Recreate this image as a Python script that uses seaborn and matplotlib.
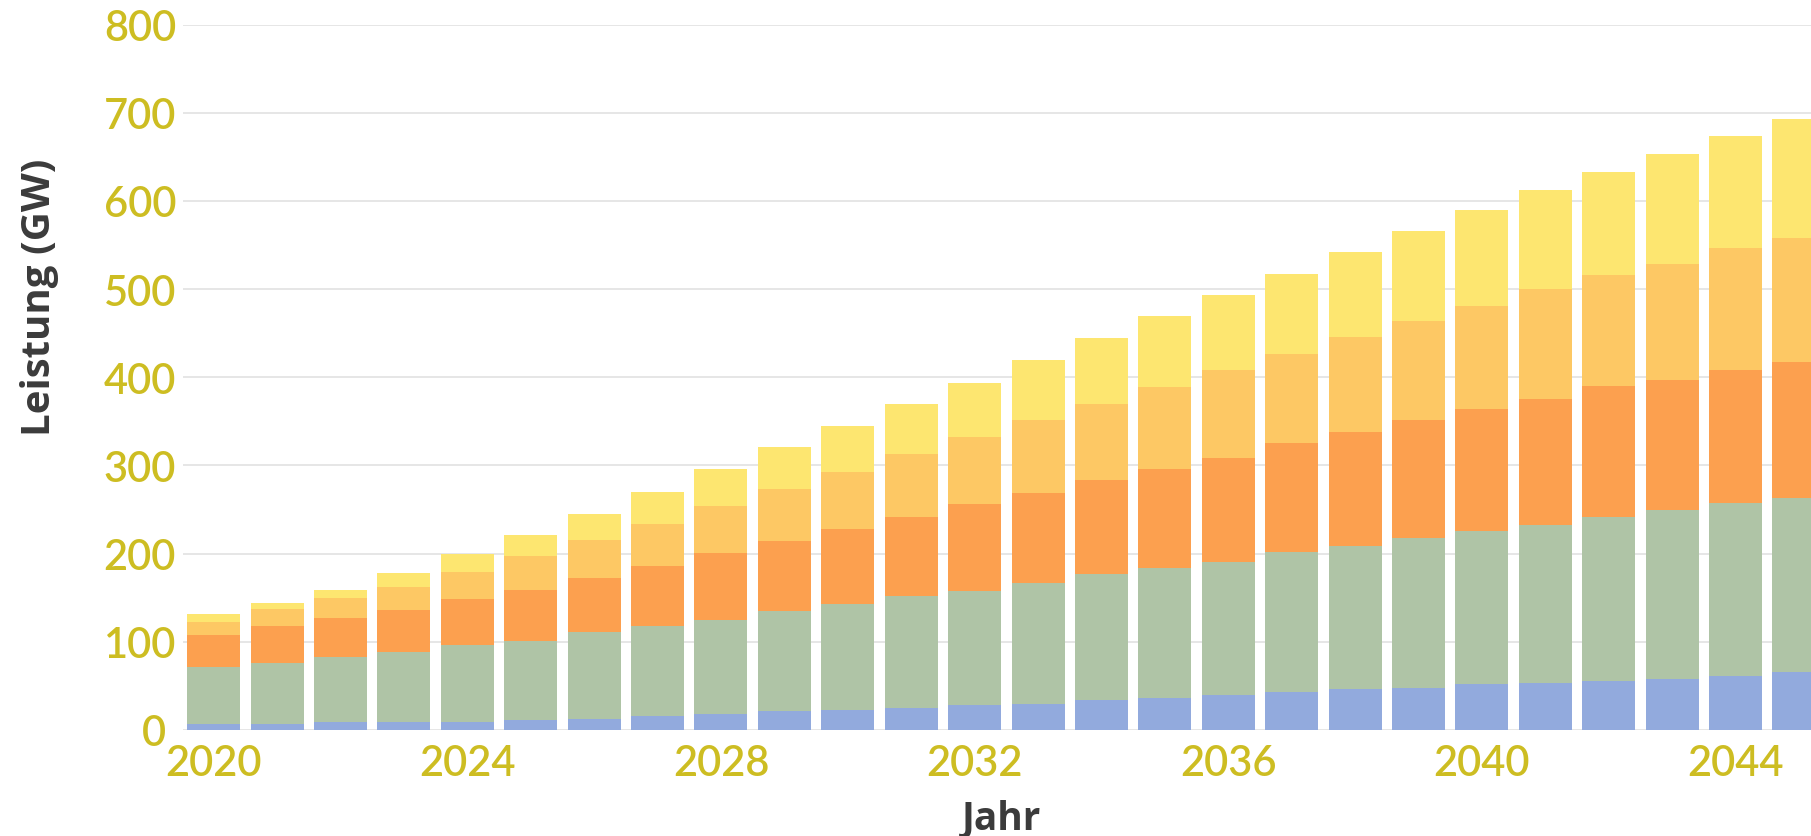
import matplotlib
matplotlib.use("Agg")
import matplotlib.pyplot as plt
import matplotlib.transforms as mtransforms
import numpy as np
import pandas as pd
import seaborn as sns

# Installed capacity per year (GW), one array per stacked layer, bottom to top
years = list(range(2020, 2046))
layer_blue = [7, 6.5, 9, 9, 9, 11, 13, 16, 18, 21, 23, 25, 28, 30, 34, 36,
              40, 43, 46, 48, 52, 53, 56, 58, 61, 66]
layer_green = [64, 69, 74, 80, 87, 90, 98, 102, 107, 114, 120, 127, 130, 137,
               143, 148, 151, 159, 163, 170, 174, 180, 185, 191, 196, 197]
layer_orange = [37, 42, 44, 47, 52, 58, 61, 68, 76, 79, 85, 89, 98, 102, 106,
                112, 118, 123, 129, 133, 138, 142, 149, 148, 151, 154]
layer_lightorange = [15, 19.5, 23, 26, 31, 38, 43, 48, 53, 59, 64, 72, 76, 82,
                     87, 93, 99, 101, 108, 113, 117, 125, 126, 131, 138, 141]
layer_yellow = [8, 7, 9, 16, 21, 24, 30, 36, 42, 48, 53, 57, 62, 69, 74, 80,
                85, 91, 96, 102, 109, 112, 117, 125, 128, 135]

y_ticks = [0, 100, 200, 300, 400, 500, 600, 700, 800]
x_tick_years = [2020, 2024, 2028, 2032, 2036, 2040, 2044]

layers = [layer_blue, layer_green, layer_orange, layer_lightorange, layer_yellow]
colors = ["#92AADD", "#AFC4A6", "#FCA04F", "#FDC864", "#FDE670"]

TICK_COLOR = "#CDBD22"
LABEL_COLOR = "#3B3B3B"

sns.set_theme(style="white")
plt.rcParams["font.family"] = ["Lato", "DejaVu Sans"]

fig = plt.figure(figsize=(18.11, 8.37), dpi=100)
W, H = 1811, 837
ax = fig.add_axes([183 / W, 106 / H, (W - 183) / W, (731 - 25.5) / H])

df = pd.DataFrame({"Jahr": [str(y) for y in years]})
cum = np.cumsum(np.array(layers, dtype=float), axis=0)

# Stacked bars: draw cumulative totals from the top layer downwards
for i in range(len(layers) - 1, -1, -1):
    df["wert"] = cum[i]
    sns.barplot(data=df, x="Jahr", y="wert", color=colors[i], saturation=1,
                width=0.836, errorbar=None, linewidth=0, ax=ax, zorder=2)

ax.set_xlim(-0.484, 25.19)
ax.set_ylim(0, 800)
ax.set_axisbelow(True)
ax.yaxis.grid(True, color="#E2E2E2", linewidth=1.2)
ax.xaxis.grid(False)
for s in ax.spines.values():
    s.set_visible(False)

ax.set_yticks(y_ticks)
ax.set_yticklabels([str(v) for v in y_ticks])
ax.set_xticks([years.index(y) for y in x_tick_years])
ax.set_xticklabels([str(y) for y in x_tick_years])
ax.tick_params(axis="both", length=0, labelsize=30, colors=TICK_COLOR)
ax.tick_params(axis="y", pad=5)
ax.tick_params(axis="x", pad=10)
for lbl in ax.get_xticklabels() + ax.get_yticklabels():
    lbl.set_fontweight("semibold")

# the zero label sits a little further left
zero_lbl = ax.get_yticklabels()[0]
zero_lbl.set_transform(zero_lbl.get_transform() +
                       mtransforms.ScaledTranslation(-10 / 100, 0, fig.dpi_scale_trans))

ax.set_xlabel("Jahr", fontsize=28, fontweight="bold", color=LABEL_COLOR,
              family=["Open Sans", "DejaVu Sans"])
ax.set_ylabel("Leistung (GW)", fontsize=29, fontweight="bold", color=LABEL_COLOR,
              family=["Open Sans", "DejaVu Sans"])
ax.xaxis.label.set_va("center")
ax.yaxis.label.set_va("center")
ax.xaxis.set_label_coords((1002 - 183) / (W - 183), (731 - 819) / (731 - 25.5))
ax.yaxis.set_label_coords((40 - 183) / (W - 183), (731 - 297) / (731 - 25.5))

fig.savefig("out.png", dpi=100)
